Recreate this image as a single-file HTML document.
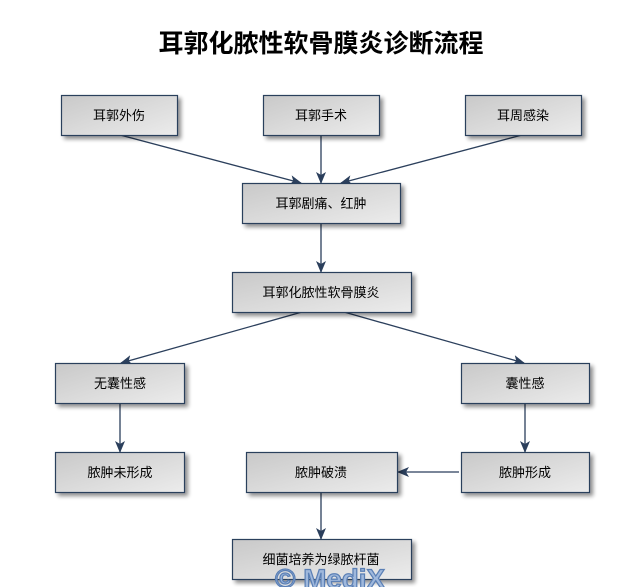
<!DOCTYPE html>
<html><head><meta charset="utf-8"><style>
html,body{margin:0;padding:0;background:#fff;width:642px;height:587px;overflow:hidden}
svg{display:block}
text{font-family:"Liberation Sans","WenQuanYi Zen Hei","Noto Sans CJK SC",sans-serif}
</style></head><body>
<svg width="642" height="587" viewBox="0 0 642 587" xmlns="http://www.w3.org/2000/svg">
<defs>
<linearGradient id="g" x1="0" y1="0" x2="1" y2="1">
<stop offset="0" stop-color="#c9c9c9"/><stop offset="1" stop-color="#ececec"/>
</linearGradient>
<filter id="s" x="-10%" y="-10%" width="130%" height="150%">
<feGaussianBlur in="SourceAlpha" stdDeviation="2"/><feOffset dx="3" dy="3"/>
<feComponentTransfer><feFuncA type="linear" slope="0.45"/></feComponentTransfer>
<feMerge><feMergeNode/><feMergeNode in="SourceGraphic"/></feMerge>
</filter>
<marker id="a" markerWidth="12" markerHeight="10" refX="11" refY="5" orient="auto" markerUnits="userSpaceOnUse">
<path d="M0,0 L12,5 L0,10 L3,5 z" fill="#2b3f5c"/>
</marker>
</defs>
<text x="321" y="52" text-anchor="middle" font-size="25" font-weight="bold" fill="#000">耳郭化脓性软骨膜炎诊断流程</text>
<g stroke="#2b3f5c" stroke-width="1.3" fill="none" marker-end="url(#a)">
<line x1="120" y1="135" x2="301" y2="183"/>
<line x1="321" y1="135" x2="321" y2="183"/>
<line x1="522" y1="135" x2="341" y2="183"/>
<line x1="321" y1="223" x2="321" y2="272"/>
<line x1="302" y1="312" x2="121" y2="363"/>
<line x1="344" y1="312" x2="524" y2="363"/>
<line x1="120" y1="403" x2="120" y2="452"/>
<line x1="525" y1="403" x2="525" y2="452"/>
<line x1="459" y1="472" x2="398" y2="472"/>
<line x1="321" y1="492" x2="321" y2="539"/>
</g>
<g stroke="#2b3f5c" stroke-width="1.2" fill="url(#g)" filter="url(#s)">
<rect x="61.5" y="95.5" width="116" height="40"/>
<rect x="263.5" y="95.5" width="116" height="40"/>
<rect x="465.5" y="95.5" width="116" height="40"/>
<rect x="242.5" y="183.5" width="158" height="40"/>
<rect x="232.5" y="272.5" width="179" height="40"/>
<rect x="55.5" y="363.5" width="129" height="40"/>
<rect x="461.5" y="363.5" width="128" height="40"/>
<rect x="55.5" y="452.5" width="129" height="40"/>
<rect x="246.5" y="452.5" width="151" height="40"/>
<rect x="461.5" y="452.5" width="128" height="40"/>
<rect x="232.5" y="539.5" width="179" height="40"/>
</g>
<g font-size="13" fill="#000" text-anchor="middle">
<text x="119" y="120">耳郭外伤</text>
<text x="321" y="120">耳郭手术</text>
<text x="523" y="120">耳周感染</text>
<text x="321" y="208">耳郭剧痛、红肿</text>
<text x="321" y="297">耳郭化脓性软骨膜炎</text>
<text x="120" y="388">无囊性感</text>
<text x="525" y="388">囊性感</text>
<text x="120" y="477">脓肿未形成</text>
<text x="321" y="477">脓肿破溃</text>
<text x="525" y="477">脓肿形成</text>
<text x="321" y="564">细菌培养为绿脓杆菌</text>
</g>
<text x="330" y="588" text-anchor="middle" font-size="27" font-weight="bold" fill="#9fb8dc" stroke="#5a7fb5" stroke-width="1.2" textLength="110" lengthAdjust="spacingAndGlyphs">© MediX</text>
</svg>
</body></html>
